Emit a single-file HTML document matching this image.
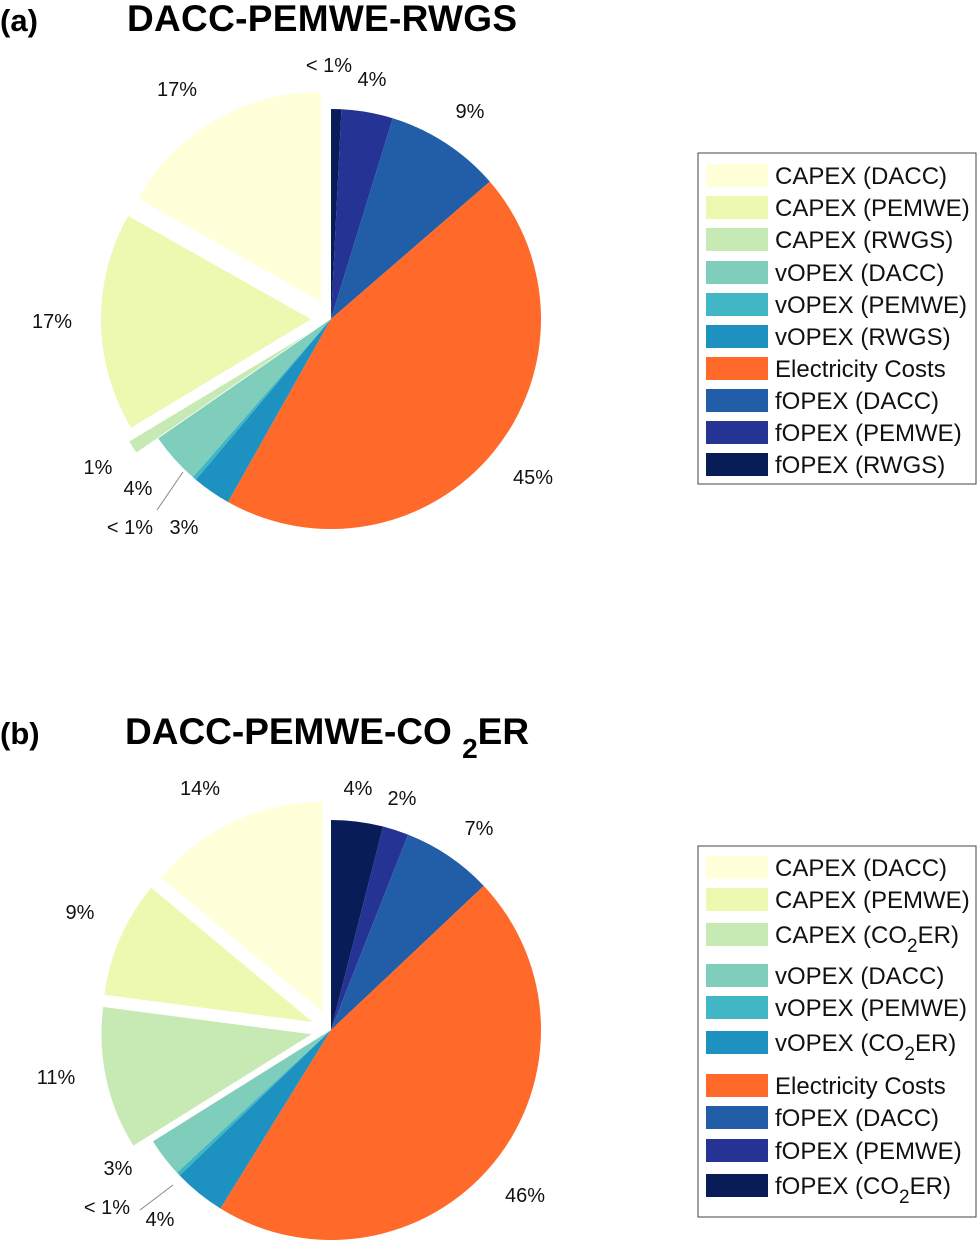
<!DOCTYPE html>
<html><head><meta charset="utf-8"><style>
body{margin:0;background:#fff;width:980px;height:1243px;overflow:hidden;font-family:"Liberation Sans",Arial,sans-serif}
svg text{font-family:"Liberation Sans",Arial,sans-serif}
</style></head><body>
<svg id="chart" width="980" height="1243" viewBox="0 0 980 1243">
<text x="0" y="31" font-size="31" font-weight="bold">(a)</text>
<text x="127" y="31" font-size="37" font-weight="bold" textLength="390">DACC-PEMWE-RWGS</text>
<text x="0" y="744" font-size="31" font-weight="bold">(b)</text>
<text x="125" y="744" font-size="37" font-weight="bold">DACC-PEMWE-CO <tspan dy="14" font-size="28">2</tspan><tspan dy="-14">ER</tspan></text>
<g id="pieA"></g>
<g id="pieB"></g>
<g id="legA"></g>
<g id="legB"></g>
</svg>
<script>
// Data (clockwise from 12 o'clock)
const categoriesA = ["fOPEX (RWGS)","fOPEX (PEMWE)","fOPEX (DACC)","Electricity Costs","vOPEX (RWGS)","vOPEX (PEMWE)","vOPEX (DACC)","CAPEX (RWGS)","CAPEX (PEMWE)","CAPEX (DACC)"];
const valuesA = [0.8, 4, 9, 45, 3, 0.3, 4, 1, 17, 17];
const printedA = ["< 1%","4%","9%","45%","3%","< 1%","4%","1%","17%","17%"];
const categoriesB = ["fOPEX (CO2ER)","fOPEX (PEMWE)","fOPEX (DACC)","Electricity Costs","vOPEX (CO2ER)","vOPEX (PEMWE)","vOPEX (DACC)","CAPEX (CO2ER)","CAPEX (PEMWE)","CAPEX (DACC)"];
const valuesB = [4, 2, 7, 46, 4, 0.3, 3, 11, 9, 14];
const printedB = ["4%","2%","7%","46%","4%","< 1%","3%","11%","9%","14%"];
// styling
const colors = ["#081d58","#253494","#225ea8","#ff6a2a","#1d91c0","#41b6c4","#7fcdbb","#c7e9b4","#edf8b1","#ffffd9"];
const explodeA = [0,0,0,0,0,0,0,26,20,20];
const explodeB = [0,0,0,0,0,0,0,20,20,20];
const labelPosA = [[329,72],[372,86],[470,118],[533,484],[184,534],[130,534],[138,495],[98,474],[52,328],[177,96]];
const labelPosB = [[358,795],[402,805],[479,835],[525,1202],[160,1226],[107,1214],[118,1175],[56,1084],[80,919],[200,795]];
const NS="http://www.w3.org/2000/svg";
function mk(t,a){const e=document.createElementNS(NS,t);for(const k in a)e.setAttribute(k,a[k]);return e;}
function angleScale(vals){const tot=vals.reduce((a,b)=>a+b,0);return v=>v/tot*2*Math.PI;}
function drawPie(g,vals,printed,explode,lpos,cx,cy,r,leader){
  const sc=angleScale(vals);let a0=0;
  vals.forEach((v,i)=>{
    const a1=a0+sc(v),mid=(a0+a1)/2;
    const ox=Math.sin(mid)*explode[i],oy=-Math.cos(mid)*explode[i];
    const x0=cx+ox+r*Math.sin(a0),y0=cy+oy-r*Math.cos(a0),x1=cx+ox+r*Math.sin(a1),y1=cy+oy-r*Math.cos(a1);
    const p=mk("path",{d:`M${cx+ox},${cy+oy} L${x0},${y0} A${r},${r} 0 ${a1-a0>Math.PI?1:0} 1 ${x1},${y1} Z`,fill:colors[i]});
    
    
    g.appendChild(p);
    const t=mk("text",{x:lpos[i][0],y:lpos[i][1],"font-size":20,"text-anchor":"middle",fill:"#111"});
    t.textContent=printed[i];
    
    
    g.appendChild(t);
    a0=a1;
  });
  const l=mk("line",{x1:leader[0],y1:leader[1],x2:leader[2],y2:leader[3],stroke:"#888","stroke-width":1});
  
  
  g.appendChild(l);
}
drawPie(document.getElementById("pieA"),valuesA,printedA,explodeA,labelPosA,331,319,210,[183,472,157,510]);
drawPie(document.getElementById("pieB"),valuesB,printedB,explodeB,labelPosB,331,1030,210,[173,1185,140,1210]);
function drawLegend(g,cats,box,rows){
  const b=mk("rect",{x:box[0],y:box[1],width:box[2],height:box[3],fill:"#fff",stroke:"#444","stroke-width":1});
  
  
  g.appendChild(b);
  const order=cats.slice().reverse();const cols=colors.slice().reverse();
  order.forEach((c,i)=>{
    const y=rows[i];
    const s=mk("rect",{x:706,y:y-11,width:62,height:23,fill:cols[i]});
    
    
    g.appendChild(s);
    const t=mk("text",{x:775,y:y+9,"font-size":24,fill:"#111"});
    if(c.includes("CO2ER")){const parts=c.split("CO2ER");t.appendChild(document.createTextNode(parts[0]+"CO"));const s2=mk("tspan",{dy:9,"font-size":19});s2.textContent="2";t.appendChild(s2);const s3=mk("tspan",{dy:-9});s3.textContent="ER"+parts[1];t.appendChild(s3);}
    else t.textContent=c;
    
    
    g.appendChild(t);
  });
}
drawLegend(document.getElementById("legA"),categoriesA,[698,153,278,331],[175,207,239,272,304,336,368,400,432,464]);
drawLegend(document.getElementById("legB"),categoriesB,[698,846,278,371],[867,899,934,975,1007,1042,1085,1117,1150,1185]);
</script>
</body></html>
